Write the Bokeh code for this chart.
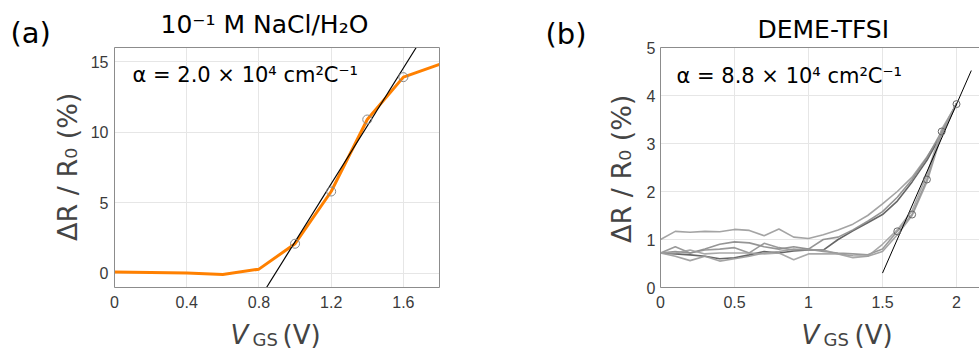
import math
from bokeh.plotting import figure
from bokeh.layouts import row
from bokeh.models import Label, FixedTicker, Range1d, LinearAxis
from bokeh.embed import file_html
from bokeh.resources import INLINE

# ---------------- data: panel (a) ----------------
a_vgs = [0.0, 0.2, 0.4, 0.6, 0.8, 1.0, 1.2, 1.4, 1.6, 1.8]
a_dr = [0.1, 0.07, 0.03, -0.08, 0.3, 2.1, 5.8, 10.9, 13.9, 14.8]
a_pts_x = [1.0, 1.2, 1.4, 1.6]
a_pts_y = [2.1, 5.8, 10.9, 13.9]
a_fit_x = [0.842, 1.671]
a_fit_y = [-1.0, 16.0]
a_xlim = (0.0, 1.8)
a_ylim = (-1.0, 16.0)
a_xticks = [0, 0.4, 0.8, 1.2, 1.6]
a_yticks = [0, 5, 10, 15]

# ---------------- data: panel (b) ----------------
b_vgs = [0.0, 0.1, 0.2, 0.3, 0.4, 0.5, 0.6, 0.7, 0.8, 0.9, 1.0,
         1.1, 1.2, 1.3, 1.4, 1.5, 1.6, 1.7, 1.8, 1.9, 2.0]
b_c1 = [1.0, 1.17, 1.15, 1.17, 1.16, 1.21, 1.19, 1.08, 1.22, 1.05, 1.02, 1.1, 1.2, 1.32, 1.5, 1.74, 2.0, 2.3, 2.72, 3.2, 3.83]
b_c2 = [0.72, 0.7, 0.68, 0.65, 0.6, 0.62, 0.68, 0.75, 0.72, 0.76, 0.78, 0.78, 1.0, 1.18, 1.35, 1.52, 1.8, 2.2, 2.65, 3.2, 3.83]
b_c3 = [0.72, 0.75, 0.72, 0.8, 0.9, 0.95, 0.93, 0.85, 0.8, 0.85, 0.8, 1.0, 1.05, 1.2, 1.38, 1.58, 1.88, 2.25, 2.7, 3.25, 3.83]
b_c4 = [0.72, 0.85, 0.72, 0.78, 0.8, 0.83, 0.72, 0.92, 0.83, 0.78, 0.8, 0.75, 0.72, 0.7, 0.68, 0.8, 1.17, 1.52, 2.25, 3.25, 3.82]
b_c5 = [0.72, 0.65, 0.56, 0.65, 0.55, 0.6, 0.65, 0.72, 0.75, 0.8, 0.78, 0.78, 0.7, 0.66, 0.65, 0.75, 1.1, 1.5, 2.2, 3.2, 3.82]
b_c6 = [0.72, 0.72, 0.78, 0.7, 0.72, 0.72, 0.72, 0.7, 0.72, 0.58, 0.7, 0.7, 0.7, 0.62, 0.65, 0.9, 1.2, 1.6, 2.35, 3.3, 3.82]
b_curves = [b_c1, b_c2, b_c3, b_c4, b_c5, b_c6]
b_colors = ["#9a9a9a", "#555555", "#8a8a8a", "#8f8f8f", "#9a9a9a", "#a0a0a0"]
b_pts_x = [1.6, 1.7, 1.8, 1.9, 2.0]
b_pts_y = [1.17, 1.52, 2.25, 3.25, 3.82]
b_fit_x = [1.5, 2.1]
b_fit_y = [0.3, 4.52]
b_xlim = (0.0, 2.16)
b_ylim = (0.0, 5.0)
b_xticks = [0, 0.5, 1, 1.5, 2]
b_yticks = [0, 1, 2, 3, 4, 5]

FONT = "DejaVu Sans"
TICKFONT = "Liberation Sans"
LABEL_COLOR = "#444444"
FRAME_COLOR = "#8c8c8c"
GRID_COLOR = "#e6e6e6"
H = 354
BASE_SHIFT = 8      # label anchors sit this far below the visual baseline
MID_SHIFT = 3


class Panel:
    """Pixel <-> data mapping for one panel: the plot box spans
    (box_l..box_r, box_t..box_b) in canvas pixels and (x0..x1, y0..y1) in data."""

    def __init__(self, width, box_l, box_r, box_t, box_b, x0, x1, y0, y1, page_x0):
        self.sx = (box_r - box_l) / (x1 - x0)
        self.sy = (box_b - box_t) / (y1 - y0)
        self.box_l, self.box_t, self.x0, self.y1 = box_l, box_t, x0, y1
        self.page_x0 = page_x0
        self.xr = Range1d(self.dx(page_x0), self.dx(page_x0 + width))
        self.yr = Range1d(self.dy(H), self.dy(0))
        self.frame_w = int(round(box_r - box_l))
        self.frame_h = int(round(box_b - box_t))

    def dx(self, px):          # page pixel x -> data x
        return self.x0 + (px - self.page_x0 - self.box_l) / self.sx

    def dy(self, py):          # page pixel y -> data y
        return self.y1 - (py - self.box_t) / self.sy


def make_fig(width, pan):
    p = figure(width=width, height=H, x_range=pan.xr, y_range=pan.yr,
               output_backend="svg", toolbar_location=None, min_border=0,
               x_axis_type=None, y_axis_type=None, title=None)
    p.outline_line_color = None
    p.background_fill_color = "white"
    p.border_fill_color = "white"
    return p


def tick_axis(p, side, loc, bounds, ticks, grid_len, standoff):
    ax = LinearAxis(fixed_location=loc, bounds=bounds,
                    ticker=FixedTicker(ticks=ticks), level="underlay")
    ax.axis_line_color = None
    ax.major_tick_line_color = GRID_COLOR
    ax.major_tick_in = grid_len
    ax.major_tick_out = 0
    ax.minor_tick_line_color = None
    ax.major_label_text_font = TICKFONT
    ax.major_label_text_font_size = "16px"
    ax.major_label_text_color = "#3a3a3a"
    ax.major_label_standoff = standoff
    p.add_layout(ax, side)


def line_axis(p, side, loc, bounds):
    ax = LinearAxis(fixed_location=loc, bounds=bounds, ticker=FixedTicker(ticks=[]))
    ax.axis_line_color = FRAME_COLOR
    ax.axis_line_width = 1
    ax.major_tick_line_color = None
    ax.minor_tick_line_color = None
    ax.major_label_text_font_size = "0px"
    p.add_layout(ax, side)


def put_base(p, pan, px, py, text, size, **kw):
    """Label whose visual baseline lies at page pixel (px, py)."""
    p.add_layout(Label(x=pan.dx(px), y=pan.dy(py - BASE_SHIFT), text=text,
                       text_font=FONT, text_font_size=size,
                       text_baseline="alphabetic", **kw))


def put_mid(p, pan, px, py, text, size, **kw):
    """Label whose vertical middle lies at page pixel (px, py)."""
    p.add_layout(Label(x=pan.dx(px), y=pan.dy(py - MID_SHIFT), text=text,
                       text_font=FONT, text_font_size=size,
                       text_baseline="middle", **kw))


# ---------------- panel (a) ----------------
PA_W = 490
pan_a = Panel(PA_W, 114, 439, 47, 287, a_xlim[0], a_xlim[1], a_ylim[0], a_ylim[1], 0)
pa = make_fig(PA_W, pan_a)
tick_axis(pa, "below", a_ylim[0], a_xlim, a_xticks, pan_a.frame_h, 8)
tick_axis(pa, "left", a_xlim[0], a_ylim, a_yticks, pan_a.frame_w, 6)
line_axis(pa, "below", a_ylim[0], a_xlim)
line_axis(pa, "above", a_ylim[1], a_xlim)
line_axis(pa, "left", a_xlim[0], a_ylim)
line_axis(pa, "right", a_xlim[1], a_ylim)

pa.line(a_vgs, a_dr, line_color="#ff8000", line_width=3)
pa.line(a_fit_x, a_fit_y, line_color="black", line_width=1.2)
pa.scatter(a_pts_x, a_pts_y, size=9, marker="circle", fill_color=None,
           line_color="#888888", line_width=1)

put_mid(pa, pan_a, 10, 35, "(a)", "29px", text_color="black")
put_base(pa, pan_a, 160, 32, "10⁻¹ M NaCl/H₂O", "25px", text_color="black")
put_base(pa, pan_a, 132, 82, "α = 2.0 × 10⁴ cm²C⁻¹", "21px", text_color="black")
pa.add_layout(Label(x=pan_a.dx(67), y=pan_a.dy(162), text="ΔR / R₀  (%)",
                    text_font=FONT, text_font_size="27px", text_color=LABEL_COLOR,
                    text_align="center", text_baseline="middle", angle=math.pi / 2))
put_base(pa, pan_a, 230, 342, "V", "26px", text_color=LABEL_COLOR,
         text_font_style="italic")
put_base(pa, pan_a, 252, 347, "GS", "18px", text_color=LABEL_COLOR)
put_base(pa, pan_a, 282, 342, "(V)", "26px", text_color=LABEL_COLOR)

# ---------------- panel (b) ----------------
PB_X0 = 490
PB_W = 979 - PB_X0
pan_b = Panel(PB_W, 170, 170 + 148 * (b_xlim[1] - b_xlim[0]), 47, 287,
              b_xlim[0], b_xlim[1], b_ylim[0], b_ylim[1], PB_X0)
pb = make_fig(PB_W, pan_b)
tick_axis(pb, "below", b_ylim[0], b_xlim, b_xticks, pan_b.frame_h, 8)
tick_axis(pb, "left", b_xlim[0], b_ylim, b_yticks, pan_b.frame_w, 5)
line_axis(pb, "below", b_ylim[0], b_xlim)
line_axis(pb, "above", b_ylim[1], b_xlim)
line_axis(pb, "left", b_xlim[0], b_ylim)

for c, col in zip(b_curves, b_colors):
    pb.line(b_vgs, c, line_color=col, line_width=1.6, line_alpha=0.9)
pb.line(b_fit_x, b_fit_y, line_color="black", line_width=1)
pb.scatter(b_pts_x, b_pts_y, size=7, marker="circle", fill_color=None,
           line_color="#666666", line_width=1)

put_mid(pb, pan_b, 545, 36, "(b)", "29px", text_color="black")
put_base(pb, pan_b, 757, 37, "DEME-TFSI", "25px", text_color="black")
put_base(pb, pan_b, 676, 83, "α = 8.8 × 10⁴ cm²C⁻¹", "21px", text_color="black")
pb.add_layout(Label(x=pan_b.dx(621), y=pan_b.dy(164), text="ΔR / R₀  (%)",
                    text_font=FONT, text_font_size="27px", text_color=LABEL_COLOR,
                    text_align="center", text_baseline="middle", angle=math.pi / 2))
put_base(pb, pan_b, 801, 342, "V", "26px", text_color=LABEL_COLOR,
         text_font_style="italic")
put_base(pb, pan_b, 823, 347, "GS", "18px", text_color=LABEL_COLOR)
put_base(pb, pan_b, 854, 342, "(V)", "26px", text_color=LABEL_COLOR)

layout = row(pa, pb)
open("out.html", "w").write(file_html(layout, INLINE))
